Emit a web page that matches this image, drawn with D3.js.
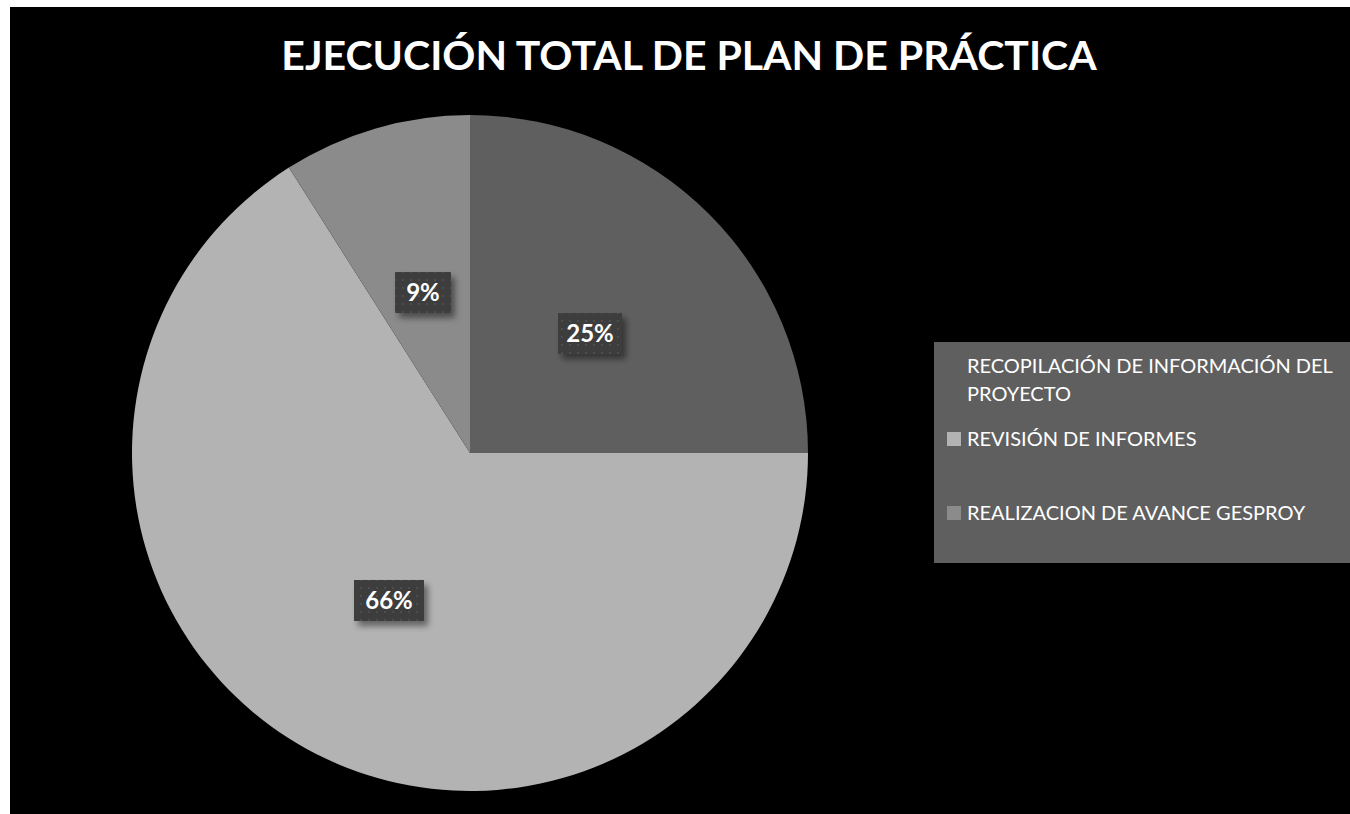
<!DOCTYPE html>
<html>
<head>
<meta charset="utf-8">
<script src="https://d3js.org/d3.v7.min.js"></script>
<style>
  body { margin: 0; background: #ffffff; }
  text { font-family: Lato, "Open Sans", sans-serif; }
</style>
</head>
<body>
<svg id="chart" width="1350" height="814"></svg>
<script>
// data
var categories = ["RECOPILACIÓN DE INFORMACIÓN DEL PROYECTO", "REVISIÓN DE INFORMES", "REALIZACION DE AVANCE GESPROY"];
var values = [25, 66, 9];
var colors = ["#5f5f5f", "#b3b3b3", "#8b8b8b"];
var title = "EJECUCIÓN TOTAL DE PLAN DE PRÁCTICA";

var svg = d3.select("#chart");

// defs: dotted label pattern + shadow
var defs = svg.append("defs");
var pat = defs.append("pattern").attr("id", "dots")
	.attr("width", 8).attr("height", 8).attr("patternUnits", "userSpaceOnUse");
pat.append("rect").attr("width", 8).attr("height", 8).attr("fill", "#3c3c3c");
pat.append("rect").attr("x", 3).attr("y", 3).attr("width", 2).attr("height", 2).attr("fill", "#4e4e4e");

var flt = defs.append("filter").attr("id", "shadow")
	.attr("x", "-20%").attr("y", "-20%").attr("width", "150%").attr("height", "160%");
flt.append("feDropShadow").attr("dx", 4).attr("dy", 5).attr("stdDeviation", 3)
	.attr("flood-color", "#000").attr("flood-opacity", 0.45);

// background
svg.append("rect").attr("x", 10).attr("y", 7).attr("width", 1340).attr("height", 807).attr("fill", "#000");

svg.append("text")
	.attr("x", 689).attr("y", 70)
	.attr("text-anchor", "middle")
	.attr("fill", "#fff")
	.style("font-size", "41px").style("font-weight", "bold")
	.text(title);

// pie
var cx = 470, cy = 453, r = 338;
var pie = d3.pie().sort(null).value(function(d){ return d; });
var arcs = pie(values);
var arc = d3.arc().innerRadius(0).outerRadius(r);

var g = svg.append("g").attr("transform", "translate(" + cx + "," + cy + ")");
g.selectAll("path").data(arcs)
	.enter()
	.append("path")
	.attr("d", arc)
	.attr("fill", function(d, i){ return colors[i]; });

// data labels (offsets from pie centre, as placed in the original)
var total = d3.sum(values);
var labelPos = [[120, -120], [-81, 147], [-47, -161]];
var labelW = [64, 70, 56];
var lbl = g.selectAll("g.lbl").data(arcs)
	.enter()
	.append("g")
	.attr("class", "lbl")
	.attr("transform", function(d, i){
		return "translate(" + labelPos[i][0] + "," + labelPos[i][1] + ")";
	});
lbl.each(function(d, i){
	var t = Math.round(d.value / total * 100) + "%";
	var w = labelW[i];
	d3.select(this).append("rect")
		.attr("x", -w / 2).attr("y", -20)
		.attr("width", w).attr("height", 41)
		.attr("fill", "url(#dots)")
		.attr("filter", "url(#shadow)");
	d3.select(this).append("text")
		.attr("y", 9)
		.attr("text-anchor", "middle")
		.attr("fill", "#fff")
		.style("font-size", "24px").style("font-weight", "bold")
		.text(t);
});

// legend
var leg = svg.append("g");
leg.append("rect").attr("x", 934).attr("y", 342).attr("width", 416).attr("height", 221).attr("fill", "#5f5f5f");
var legY = [[373, 401], [446], [520]];
var legLines = [["RECOPILACIÓN DE INFORMACIÓN DEL", "PROYECTO"], ["REVISIÓN DE INFORMES"], ["REALIZACION DE AVANCE GESPROY"]];
categories.forEach(function(c, i){
	leg.append("rect")
		.attr("x", 947).attr("y", legY[i][0] - 14)
		.attr("width", 14).attr("height", 14)
		.attr("fill", colors[i]);
	legLines[i].forEach(function(s, j){
		leg.append("text")
			.attr("x", 967).attr("y", legY[i][j])
			.attr("fill", "#fff")
			.style("font-size", "20px")
			.text(s);
	});
});
</script>
</body>
</html>
